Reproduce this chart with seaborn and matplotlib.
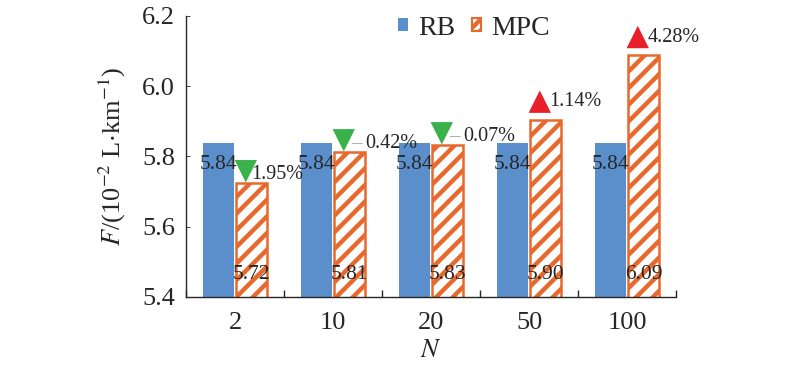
import numpy as np
import pandas as pd
import matplotlib
matplotlib.use("Agg")
import matplotlib.pyplot as plt
import seaborn as sns
from matplotlib.patches import Patch

categories = ["2", "10", "20", "50", "100"]
rb_values = [5.837, 5.837, 5.837, 5.837, 5.837]
mpc_values = [5.725, 5.813, 5.833, 5.904, 6.088]
rb_labels = ["5.84", "5.84", "5.84", "5.84", "5.84"]
mpc_labels = ["5.72", "5.81", "5.83", "5.90", "6.09"]
pct_labels = ["1.95%", "0.42%", "0.07%", "1.14%", "4.28%"]
pct_up = [False, False, False, True, True]
pct_dash = [False, True, True, False, False]

blue = "#5B8FCC"
orange = "#E8692D"
green = "#3AB14B"
red = "#E8202A"

sns.set_theme(style="ticks")
plt.rcParams["font.family"] = ["Liberation Serif", "DejaVu Serif"]
plt.rcParams["mathtext.fontset"] = "stix"
plt.rcParams["hatch.linewidth"] = 3.2

df = pd.DataFrame({
    "N": categories * 2,
    "F": rb_values + mpc_values,
    "method": ["RB"] * 5 + ["MPC"] * 5,
})

fig = plt.figure(figsize=(8, 3.71), dpi=100)
ax = fig.add_axes([0.2325, 0.1995, 0.6125, 0.7575])

sns.barplot(data=df, x="N", y="F", hue="method", palette=[blue, orange],
            width=0.68, gap=0.08, legend=False, ax=ax, saturation=1)

for p in ax.containers[1]:
    p.set_facecolor("white")
    p.set_edgecolor(orange)
    p.set_hatch("//")
    p.set_linewidth(1.8)
for p in ax.containers[0]:
    p.set_edgecolor("none")

ax.set_ylim(5.4, 6.2)
ax.set_xlim(-0.5, 4.5)
ax.set_yticks([5.4, 5.6, 5.8, 6.0, 6.2])
ax.set_yticklabels(["5.4", "5.6", "5.8", "6.0", "6.2"], fontsize=19)
ax.tick_params(axis="x", which="major", length=0, labelsize=19, pad=11)
ax.set_xticks(np.arange(-0.5, 5, 1), minor=True)
ax.tick_params(axis="x", which="minor", direction="in", length=5, width=1)
ax.tick_params(axis="y", direction="in", length=3, width=0.6, pad=8)
sns.despine(ax=ax)
ax.spines["left"].set_linewidth(1)
ax.spines["bottom"].set_linewidth(1)

ax.set_xlabel("$N$", fontsize=19, labelpad=4)
ax.set_ylabel(r"$F$/(10$^{-2}$ L$\cdot$km$^{-1}$)", fontsize=19, labelpad=10)

rb_x = [p.get_x() + p.get_width() / 2 for p in ax.containers[0]]
mpc_x = [p.get_x() + p.get_width() / 2 for p in ax.containers[1]]

for i in range(len(categories)):
    ax.text(rb_x[i], rb_values[i] - 0.06, rb_labels[i], ha="center", va="center", fontsize=15.5)
    ax.text(mpc_x[i], 5.463, mpc_labels[i], ha="center", va="center", fontsize=15.5)
    tx = mpc_x[i] - 0.06
    if pct_up[i]:
        ty = mpc_values[i] + 0.052
        ax.scatter([tx], [ty], marker="^", s=260, color=red, edgecolors="none", zorder=5)
        ly = ty
        lx = tx + 0.1
    else:
        ty = mpc_values[i] + 0.033
        ax.scatter([tx], [ty], marker="v", s=260, color=green, edgecolors="none", zorder=5)
        ly = ty - 0.01
        lx = tx + (0.1 if pct_dash[i] else 0.06)
    if pct_dash[i]:
        ax.text(lx - 0.02, ly, "\u2013", color="#A0A0A0", ha="left", va="center", fontsize=15)
        lx += 0.12
    ax.text(lx, ly, pct_labels[i], ha="left", va="center", fontsize=14.5, zorder=6)

handles = [Patch(facecolor=blue, edgecolor="none"),
           Patch(facecolor="white", edgecolor=orange, hatch="///", linewidth=1.5)]
ax.legend(handles, ["RB", "MPC"], ncol=2, frameon=False, fontsize=20,
          loc="center", bbox_to_anchor=(0.588, 0.957), handlelength=0.35,
          handleheight=0.35, columnspacing=0.6, handletextpad=0.35)

fig.savefig("out.png", dpi=100)
